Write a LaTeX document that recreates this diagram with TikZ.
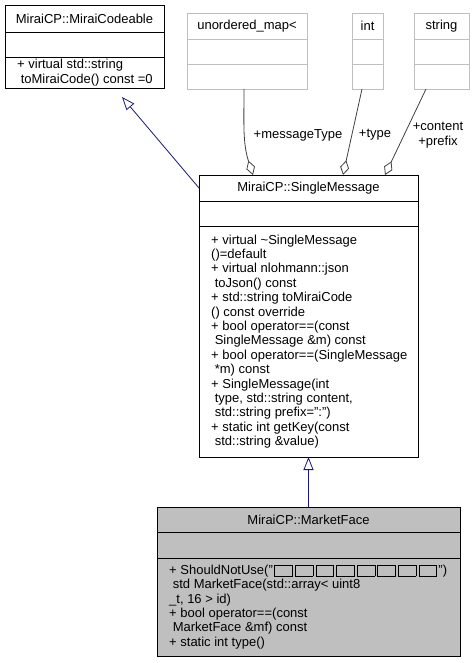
\documentclass[tikz,border=0pt]{standalone}
\usepackage{fontspec}
\setmainfont{Liberation Sans}
\usepackage{tikz}
\usepackage{xcolor}
\usetikzlibrary{arrows.meta,positioning}
\definecolor{grey75}{RGB}{191,191,191}
\definecolor{grey25}{RGB}{64,64,64}
\definecolor{navy}{RGB}{25,25,112}
\tikzstyle{classbox} = [
    rectangle,
    draw=black,
    fill=white,
    line width=0.9pt,
    inner sep=0pt,
    outer sep=0pt,
    anchor=north west,
    font=\fontsize{13}{14.4}\selectfont
]
\tikzstyle{extbox} = [
    classbox,
    draw=grey75
]
\tikzstyle{focusbox} = [
    classbox,
    fill=grey75
]
\tikzstyle{optext} = [
    inner sep=0pt,
    anchor=west,
    align=left,
    font=\fontsize{13}{14.4}\selectfont
]
% missing glyph box
\newcommand{\glyphbox}{{\setlength{\fboxsep}{1.1pt}\setlength{\fboxrule}{0.6pt}%
    \fbox{\rule[-0.5pt]{0pt}{8pt}\hspace{15pt}}}\kern2.2pt}

\begin{document}
\begin{tikzpicture}[
                x=1pt, y=1pt,
                inherit/.style={
                    navy,
                    line width=0.8pt,
                    -{Triangle[open,length=13pt,width=10pt]}
                },
                aggr/.style={
                    grey25,
                    line width=0.8pt,
                    -{Diamond[open,length=15pt,width=9pt]}
                },
                role/.style={
                    inner sep=0pt,
                    align=center,
                    font=\fontsize{13}{14.4}\selectfont
                }
            ]
                \useasboundingbox (0,0) rectangle (475,-663);
                % MiraiCodeable
                \node[classbox, minimum width=159pt, minimum height=27pt] (mctitle) at (5,-5) {MiraiCP::MiraiCodeable};
                \node[classbox, minimum width=159pt, minimum height=25pt, below=0pt of mctitle] (mcattr) {};
                \node[classbox, minimum width=159pt, minimum height=31pt, below=0pt of mcattr] (mcops) {};
                \node[optext, right=12pt of mcops.west] (mcoptext) {+ virtual std::string\\\ toMiraiCode() const =0};
                % unordered_map
                \node[extbox, minimum width=120pt, minimum height=26pt] (umaptitle) at (187,-13) {unordered\_map<};
                \node[extbox, minimum width=120pt, minimum height=25pt, below=0pt of umaptitle] (umapattr) {};
                \node[extbox, minimum width=120pt, minimum height=25pt, below=0pt of umapattr] (umapops) {};
                % int
                \node[extbox, minimum width=31pt, minimum height=26pt] (inttitle) at (352,-13) {int};
                \node[extbox, minimum width=31pt, minimum height=25pt, below=0pt of inttitle] (intattr) {};
                \node[extbox, minimum width=31pt, minimum height=25pt, below=0pt of intattr] (intops) {};
                % string
                \node[extbox, minimum width=55pt, minimum height=26pt] (strtitle) at (414,-13) {string};
                \node[extbox, minimum width=55pt, minimum height=25pt, below=0pt of strtitle] (strattr) {};
                \node[extbox, minimum width=55pt, minimum height=25pt, below=0pt of strattr] (strops) {};
                % SingleMessage
                \node[classbox, minimum width=219pt, minimum height=26pt] (msgtitle) at (199,-175) {MiraiCP::SingleMessage};
                \node[classbox, minimum width=219pt, minimum height=25pt, below=0pt of msgtitle] (msgattr) {};
                \node[classbox, minimum width=219pt, minimum height=231pt, below=0pt of msgattr] (msgops) {};
                \node[optext, right=12pt of msgops.west] (msgoptext) {+ virtual \textasciitilde SingleMessage\\
                    ()=default\\
                    + virtual nlohmann::json\\
                    \ toJson() const\\
                    + std::string toMiraiCode\\
                    () const override\\
                    + bool operator==(const\\
                    \ SingleMessage \&m) const\\
                    + bool operator==(SingleMessage\\
                    \ *m) const\\
                    + SingleMessage(int\\
                    \ type, std::string content,\\
                    \ std::string prefix=":")\\
                    + static int getKey(const\\
                    \ std::string \&value)};
                % MarketFace
                \node[focusbox, minimum width=303pt, minimum height=25pt] (mftitle) at (157,-507) {MiraiCP::MarketFace};
                \node[focusbox, minimum width=303pt, minimum height=26pt, below=0pt of mftitle] (mfattr) {};
                \node[focusbox, minimum width=303pt, minimum height=98pt, below=0pt of mfattr] (mfops) {};
                \node[optext, right=12pt of mfops.west] (mfoptext) {+ ShouldNotUse("\kern1.5pt\glyphbox\glyphbox\glyphbox\glyphbox\glyphbox\glyphbox\glyphbox\glyphbox\kern-0.7pt")\\
                    \ std MarketFace(std::array< uint8\\
                    \_t, 16 > id)\\
                    + bool operator==(const\\
                    \ MarketFace \&mf) const\\
                    + static int type()};
                % connectors
                \coordinate (mctip) at ([xshift=37.5pt,yshift=-9pt]mcops.south);
                \draw[inherit] (msgtitle.west) -- (mctip);
                \draw[inherit] (mftitle.north) -- (msgops.south);
                \draw[aggr] ([xshift=-3pt]umapops.south) to[out=-90,in=108] ([xshift=54pt]msgtitle.north west);
                \draw[aggr] ([xshift=-5.5pt]intops.south) -- ([xshift=144pt]msgtitle.north west);
                \draw[aggr] ([xshift=-15.5pt]strops.south) -- ([xshift=186pt]msgtitle.north west);
                % roles
                \node[role] (lbltype) at (298,-135) {+messageType};
                \node[role] (lblint) at (375,-135) {+type};
                \node[role] (lblstr) at (438,-135) {+content\\+prefix};
            \end{tikzpicture}
\end{document}
